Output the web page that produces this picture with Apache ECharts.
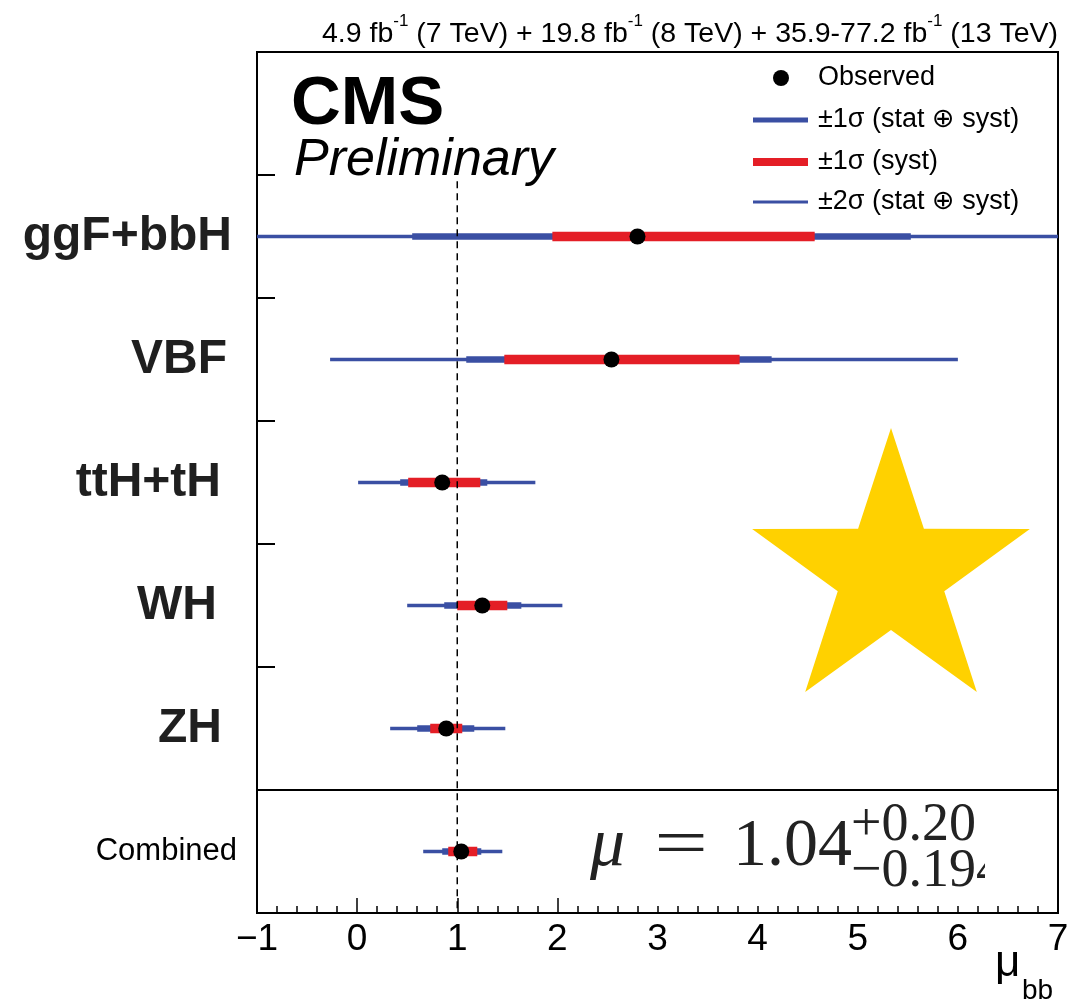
<!DOCTYPE html>
<html><head><meta charset="utf-8">
<script src="https://cdn.jsdelivr.net/npm/echarts@6/dist/echarts.min.js"></script>
<style>html,body{margin:0;padding:0;background:#fff}#c{width:1091px;height:1006px}</style>
</head><body><div id="c"></div>
<script>
// ---- data ----
const categories = ['ggF+bbH', 'VBF', 'ttH+tH', 'WH', 'ZH', 'Combined'];
const observed = [2.80, 2.54, 0.85, 1.25, 0.89, 1.04];
const tot1Lo  = [0.55, 1.09, 0.43, 0.87, 0.60, 0.85];
const tot1Hi  = [5.53, 4.14, 1.30, 1.64, 1.17, 1.24];
const syst1Lo = [1.95, 1.47, 0.51, 1.00, 0.73, 0.91];
const syst1Hi = [4.57, 3.82, 1.23, 1.50, 1.05, 1.20];
const tot2Lo  = [-1.70, -0.27, 0.01, 0.50, 0.33, 0.66];
const tot2Hi  = [8.30, 6.00, 1.78, 2.05, 1.48, 1.45];
const xMin = -1, xMax = 7, xStep = 1;
const smValue = 1;
const combinedCentral = '1.04', combinedUp = '+0.20', combinedDown = '\u22120.194';
const legendLabels = ['Observed', '\u00b11\u03c3 (stat \u2295 syst)', '\u00b11\u03c3 (syst)', '\u00b12\u03c3 (stat \u2295 syst)'];
const headerParts = ['4.9 fb', '-1', ' (7 TeV) + 19.8 fb', '-1', ' (8 TeV) + 35.9-77.2 fb', '-1', ' (13 TeV)'];

// ---- styles ----
const BLUE = '#3a4fa3', RED = '#e41e26', STAR = '#ffd100';
const SANS = "'Liberation Sans', Arial, Helvetica, 'DejaVu Sans', sans-serif";
const SERIF = "'Liberation Serif', 'Times New Roman', 'DejaVu Serif', serif";
const labelPadRight = [5, 10, 16, 20, 15, 0];

const yCats = [{value: '', textStyle: {}}].concat(categories.map((c, i) => ({
  value: c,
  textStyle: i === categories.length - 1
    ? {fontSize: 31, fontWeight: 'normal', color: '#000', fontFamily: SANS, padding: [10, labelPadRight[i], 0, 0]}
    : {fontSize: 48, fontWeight: 'bold', color: '#1f1f1f', fontFamily: SANS, padding: [10, labelPadRight[i], 0, 0]}
})));

const seriesData = categories.map((c, i) => [observed[i], c, tot1Lo[i], tot1Hi[i], syst1Lo[i], syst1Hi[i], tot2Lo[i], tot2Hi[i]]);

function renderItem(params, api) {
  const yIdx = api.value(1);
  const cs = params.coordSys;
  const clampX = v => Math.max(cs.x, Math.min(cs.x + cs.width, v));
  const px = v => clampX(api.coord([v, yIdx])[0]);
  const y = api.coord([0, yIdx])[1];
  const seg = (a, b, w, c) => ({type: 'line', shape: {x1: px(api.value(a)), y1: y, x2: px(api.value(b)), y2: y},
    style: {stroke: c, lineWidth: w, lineCap: 'butt'}});
  return {type: 'group', children: [
    seg(6, 7, 3.5, BLUE), seg(2, 3, 6.5, BLUE), seg(4, 5, 9.5, RED),
    {type: 'circle', z2: 10, shape: {cx: px(api.value(0)), cy: y, r: 8}, style: {fill: '#000'}}
  ]};
}

// star decoration
const starCx = 891, starCy = 574, starR = 146, starr = 56;
const starPts = [];
for (let k = 0; k < 10; k++) {
  const a = (-90 + 36 * k) * Math.PI / 180, r = k % 2 ? starr : starR;
  starPts.push([starCx + r * Math.cos(a), starCy + r * Math.sin(a)]);
}

// header rich text
const headerRich = headerParts.map((p, i) => (i % 2 ? '{s|' : '{n|') + p + '}').join('');

const graphics = [
  {type: 'polygon', z: 1, shape: {points: starPts}, style: {fill: STAR}},
  {type: 'text', z: 60, style: {x: 1058, y: 31, text: headerRich, align: 'right', verticalAlign: 'middle',
    rich: {n: {fontSize: 28.5, lineHeight: 36, verticalAlign: 'bottom', fontFamily: SANS, fill: '#000'},
           s: {fontSize: 17, lineHeight: 17, verticalAlign: 'top', fontFamily: SANS, fill: '#000'}}}},
  {type: 'text', z: 60, style: {x: 291, y: 105, text: 'CMS', font: 'bold 69px ' + SANS, fill: '#000', verticalAlign: 'middle'}},
  {type: 'text', z: 60, style: {x: 294, y: 161, text: 'Preliminary', font: 'italic 52px ' + SANS, fill: '#000', verticalAlign: 'middle'}},
  // legend
  {type: 'circle', z: 60, shape: {cx: 781, cy: 78, r: 8}, style: {fill: '#000'}},
  {type: 'line', z: 60, shape: {x1: 753, y1: 120, x2: 808, y2: 120}, style: {stroke: BLUE, lineWidth: 5}},
  {type: 'line', z: 60, shape: {x1: 753, y1: 162, x2: 808, y2: 162}, style: {stroke: RED, lineWidth: 8}},
  {type: 'line', z: 60, shape: {x1: 753, y1: 202, x2: 808, y2: 202}, style: {stroke: BLUE, lineWidth: 3}},
  ...legendLabels.map((t, i) => ({type: 'text', z: 60, style: {x: 818, y: [78, 120, 162, 202][i], text: t,
    font: '27px ' + SANS, fill: '#000', verticalAlign: 'middle'}})),
  // white patch under formula (as in the original pasted image)
  {type: 'rect', z: 50, shape: {x: 565, y: 796, width: 490, height: 110}, style: {fill: '#fff'}},
  {type: 'text', z: 51, style: {x: 590, y: 847, text: '\u03bc', font: 'italic 70px ' + SERIF, fill: '#222', verticalAlign: 'middle'}},
  {type: 'text', z: 51, x: 681, y: 847, scaleX: 1.4, style: {x: 0, y: 0, text: '=', font: '68px ' + SERIF, fill: '#222', align: 'center', verticalAlign: 'middle'}},
  {type: 'text', z: 51, style: {x: 733, y: 847, text: combinedCentral, font: '68px ' + SERIF, fill: '#222', verticalAlign: 'middle'}},
  {type: 'text', z: 51, style: {x: 851, y: 826, text: combinedUp, font: '54px ' + SERIF, fill: '#222', verticalAlign: 'middle'}},
  {type: 'text', z: 51, style: {x: 851, y: 872, text: combinedDown, font: '54px ' + SERIF, fill: '#222', verticalAlign: 'middle'}},
  {type: 'rect', z: 52, shape: {x: 985, y: 796, width: 70, height: 110}, style: {fill: '#fff'}},
  // axis title
  {type: 'text', z: 60, style: {x: 995, y: 964, text: '\u03bc', font: '44px ' + SANS, fill: '#000', verticalAlign: 'middle'}},
  {type: 'text', z: 60, style: {x: 1022, y: 991, text: 'bb', font: '28px ' + SANS, fill: '#000', verticalAlign: 'middle'}}
];

const chart = echarts.init(document.getElementById('c'), null, {renderer: 'canvas'});
chart.setOption({
  animation: false,
  backgroundColor: '#fff',
  grid: {left: 257, right: 33, top: 52, bottom: 93, show: true, borderColor: '#000', borderWidth: 2,
    containLabel: false, outerBoundsMode: 'none'},
  xAxis: {
    type: 'value', min: xMin, max: xMax, interval: xStep,
    axisLine: {show: true, onZero: false, lineStyle: {color: '#000', width: 2}},
    axisTick: {show: true, inside: true, length: 15, lineStyle: {color: '#000', width: 1.5}},
    minorTick: {show: true, splitNumber: 5, length: 7, lineStyle: {color: '#000', width: 1.5}},
    splitLine: {show: false}, minorSplitLine: {show: false},
    axisLabel: {fontSize: 37, color: '#000', margin: 8, fontFamily: SANS,
      formatter: v => v < 0 ? '\u2212' + Math.abs(v) : String(v)}
  },
  yAxis: [
    {type: 'category', inverse: true, data: yCats, boundaryGap: true,
      axisLine: {show: true, onZero: false, lineStyle: {color: '#000', width: 2}},
      axisTick: {show: true, inside: true, length: 18, interval: 0, lineStyle: {color: '#000', width: 2}},
      axisLabel: {show: true, interval: 0, margin: 20, align: 'right'},
      splitLine: {show: false}},
    {type: 'value', min: 0, max: 7, inverse: true, show: false}
  ],
  series: [
    {type: 'custom', name: 'measurements', renderItem: renderItem, data: seriesData,
      encode: {x: 0, y: 1}, z: 2, silent: true, clip: false},
    {type: 'line', name: 'SM', yAxisIndex: 1, z: 3, silent: true, symbol: 'none',
      data: [[smValue, 1.05], [smValue, 7]],
      lineStyle: {color: '#000', width: 1.5, type: [7, 5]},
      markLine: {symbol: 'none', silent: true, label: {show: false},
        lineStyle: {color: '#000', width: 2, type: 'solid'}, data: [{yAxis: 6}]}}
  ],
  graphic: graphics
});
</script></body></html>
